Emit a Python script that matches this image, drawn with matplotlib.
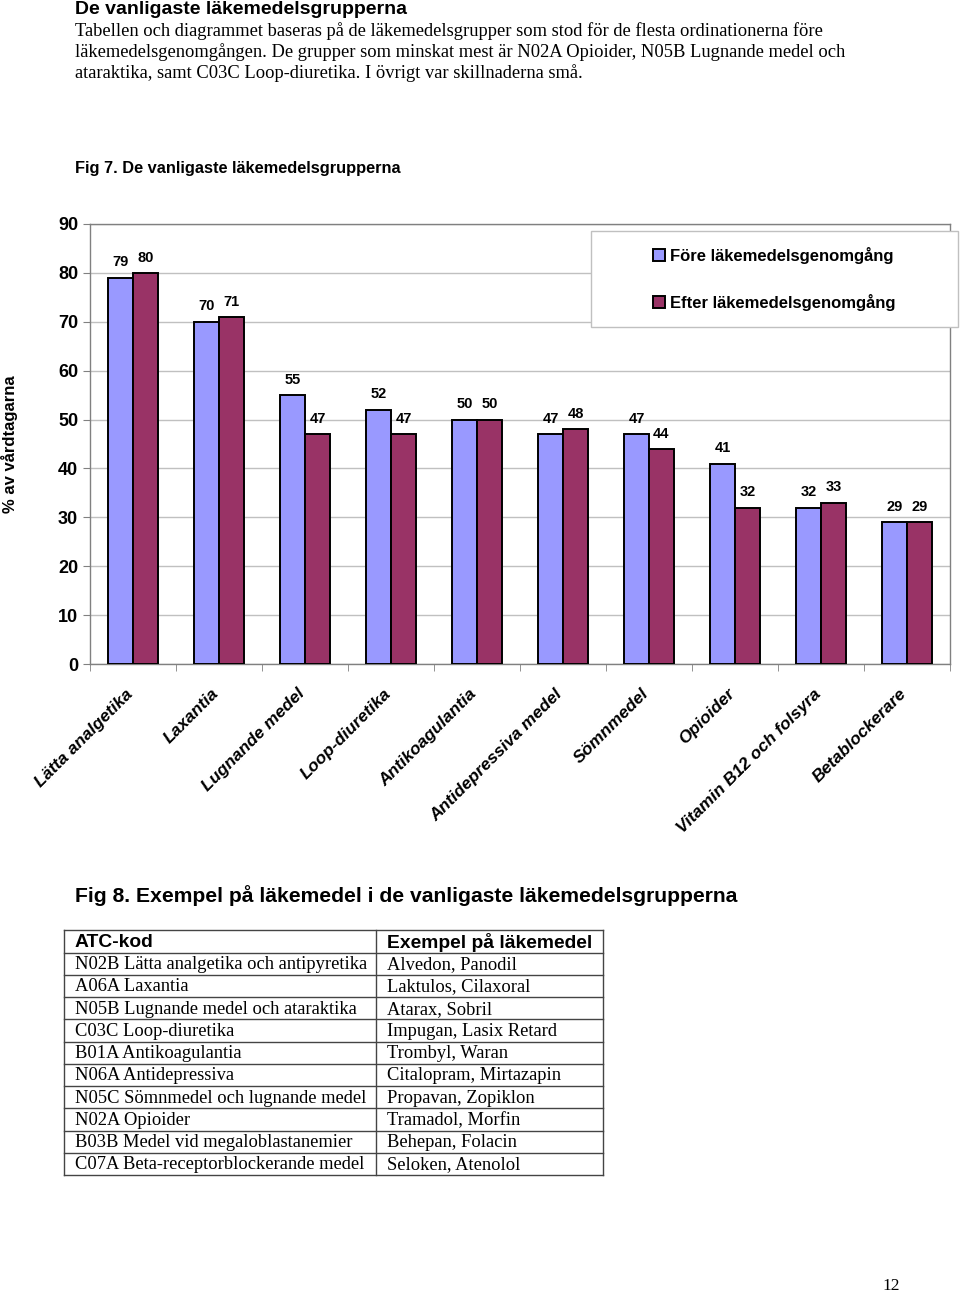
import numpy as np
import matplotlib
matplotlib.use('Agg')
import matplotlib.pyplot as plt
from matplotlib.patches import Rectangle
from matplotlib.transforms import ScaledTranslation

SANS = 'Liberation Sans'
SERIF = 'Liberation Serif'

categories = ['Lätta analgetika', 'Laxantia', 'Lugnande medel', 'Loop-diuretika',
              'Antikoagulantia', 'Antidepressiva medel', 'Sömnmedel', 'Opioider',
              'Vitamin B12 och folsyra', 'Betablockerare']
fore = [79, 70, 55, 52, 50, 47, 47, 41, 32, 29]
efter = [80, 71, 47, 47, 50, 48, 44, 32, 33, 29]
series_names = ['Före läkemedelsgenomgång', 'Efter läkemedelsgenomgång']

page_title = 'De vanligaste läkemedelsgrupperna'
intro_lines = [
    'Tabellen och diagrammet baseras på de läkemedelsgrupper som stod för de flesta ordinationerna före',
    'läkemedelsgenomgången. De grupper som minskat mest är N02A Opioider, N05B Lugnande medel och',
    'ataraktika, samt C03C Loop-diuretika. I övrigt var skillnaderna små.',
]
fig7_title = 'Fig 7. De vanligaste läkemedelsgrupperna'
fig8_title = 'Fig 8. Exempel på läkemedel i de vanligaste läkemedelsgrupperna'

table_header = ['ATC-kod', 'Exempel på läkemedel']
atc_codes = ['N02B Lätta analgetika och antipyretika', 'A06A Laxantia',
             'N05B Lugnande medel och ataraktika', 'C03C Loop-diuretika',
             'B01A Antikoagulantia', 'N06A Antidepressiva',
             'N05C Sömnmedel och lugnande medel', 'N02A Opioider',
             'B03B Medel vid megaloblastanemier', 'C07A Beta-receptorblockerande medel']
examples = ['Alvedon, Panodil', 'Laktulos, Cilaxoral', 'Atarax, Sobril',
            'Impugan, Lasix Retard', 'Trombyl, Waran', 'Citalopram, Mirtazapin',
            'Propavan, Zopiklon', 'Tramadol, Morfin', 'Behepan, Folacin',
            'Seloken, Atenolol']
page_number = '12'

W, H = 960, 1292
fig = plt.figure(figsize=(W / 100, H / 100), dpi=100)

# page background in pixel coordinates
bg = fig.add_axes([0, 0, 1, 1])
bg.set_xlim(0, W)
bg.set_ylim(H, 0)
bg.axis('off')

bg.text(75, 10, page_title, family=SANS, weight='bold', fontsize=14, va='center')
for i, line in enumerate(intro_lines):
    bg.text(75, 31 + 21 * i, line, family=SERIF, fontsize=13.35, va='center')
bg.text(75, 168, fig7_title, family=SANS, weight='bold', fontsize=11.8, va='center')
bg.text(75, 896, fig8_title, family=SANS, weight='bold', fontsize=15.2, va='center')
bg.text(891, 1286, page_number, family=SERIF, fontsize=12.5, va='center', ha='center')

# table
tx0, tx1, tsplit = 64, 603, 376
ty0, head_h = 930, 22.5
row_h = (1175 - ty0 - head_h) / len(atc_codes)
bounds = [ty0, ty0 + head_h] + [ty0 + head_h + row_h * (k + 1) for k in range(len(atc_codes))]
for yb in bounds:
    bg.plot([tx0, tx1], [yb, yb], color='#444444', lw=1)
for xb in (tx0, tsplit, tx1):
    bg.plot([xb, xb], [bounds[0], bounds[-1]], color='#444444', lw=1)
bg.text(75, (bounds[0] + bounds[1]) / 2 + 1, table_header[0], family=SANS, weight='bold',
        fontsize=13.9, va='center')
bg.text(387, (bounds[0] + bounds[1]) / 2 + 1, table_header[1], family=SANS, weight='bold',
        fontsize=13.9, va='center')
for k, (code, ex) in enumerate(zip(atc_codes, examples)):
    yc = (bounds[k + 1] + bounds[k + 2]) / 2 + 1
    bg.text(75, yc, code, family=SERIF, fontsize=13.3, va='center')
    bg.text(387, yc, ex, family=SERIF, fontsize=13.3, va='center')

# chart
left, right, top, bottom = 90, 950, 224, 664
ax = fig.add_axes([left / W, 1 - bottom / H, (right - left) / W, (bottom - top) / H])
x = np.arange(len(categories))
bw = 0.29
b1 = ax.bar(x - bw / 2, fore, bw, color='#9999FF', edgecolor='black', lw=1.4,
            label=series_names[0], zorder=3)
b2 = ax.bar(x + bw / 2, efter, bw, color='#993366', edgecolor='black', lw=1.4,
            label=series_names[1], zorder=3)
for bars, vals in ((b1, fore), (b2, efter)):
    for bar, v in zip(bars, vals):
        ax.annotate(str(v), (bar.get_x() + bar.get_width() / 2, v), xytext=(0, 6),
                    textcoords='offset points', ha='center', va='bottom',
                    family=SANS, weight='bold', fontsize=10.5)

ax.set_xlim(-0.5, len(categories) - 0.5)
ax.set_ylim(0, 90)
ax.set_yticks(np.arange(0, 91, 10))
ax.yaxis.grid(True, color='#c0c0c0', lw=1, zorder=0)
ax.set_xticks(x)
ax.set_xticklabels(categories, rotation=45, ha='right', va='top', rotation_mode='anchor',
                   family=SANS, weight='bold', style='italic', fontsize=12.5)
ax.tick_params(axis='x', length=0, pad=16)
shift = ScaledTranslation(-8 / 100, 0, fig.dpi_scale_trans)
for lab in ax.get_xticklabels():
    lab.set_transform(lab.get_transform() + shift)
ax.set_xticks(np.arange(-0.5, len(categories), 1), minor=True)
ax.tick_params(axis='x', which='minor', length=5, color='#808080')
ax.tick_params(axis='y', length=5, color='#808080', pad=3.5)
for lab in ax.get_yticklabels():
    lab.set_family(SANS)
    lab.set_weight('bold')
    lab.set_fontsize(13)
for sp in ax.spines.values():
    sp.set_color('#808080')
    sp.set_linewidth(1)
ax.set_ylabel('% av vårdtagarna', family=SANS, weight='bold', fontsize=12)
ax.yaxis.set_label_coords(-(left - 18) / (right - left), 0.5)

# legend box
lx0, lx1, ly0, ly1 = 591, 958, 231, 327
ax.add_patch(Rectangle((lx0 / W, 1 - ly1 / H), (lx1 - lx0) / W, (ly1 - ly0) / H,
                       transform=fig.transFigure, facecolor='white', edgecolor='#c0c0c0',
                       lw=1, zorder=5, clip_on=False))
leg = ax.legend(loc='center', bbox_to_anchor=((lx0 + lx1) / 2 / W, 1 - (ly0 + ly1) / 2 / H),
                bbox_transform=fig.transFigure, frameon=False, handlelength=0.7,
                handleheight=0.7, handletextpad=0.3, labelspacing=1.8,
                prop={'family': SANS, 'weight': 'bold', 'size': 12})
leg.set_zorder(6)

fig.savefig('out.png', dpi=100)
